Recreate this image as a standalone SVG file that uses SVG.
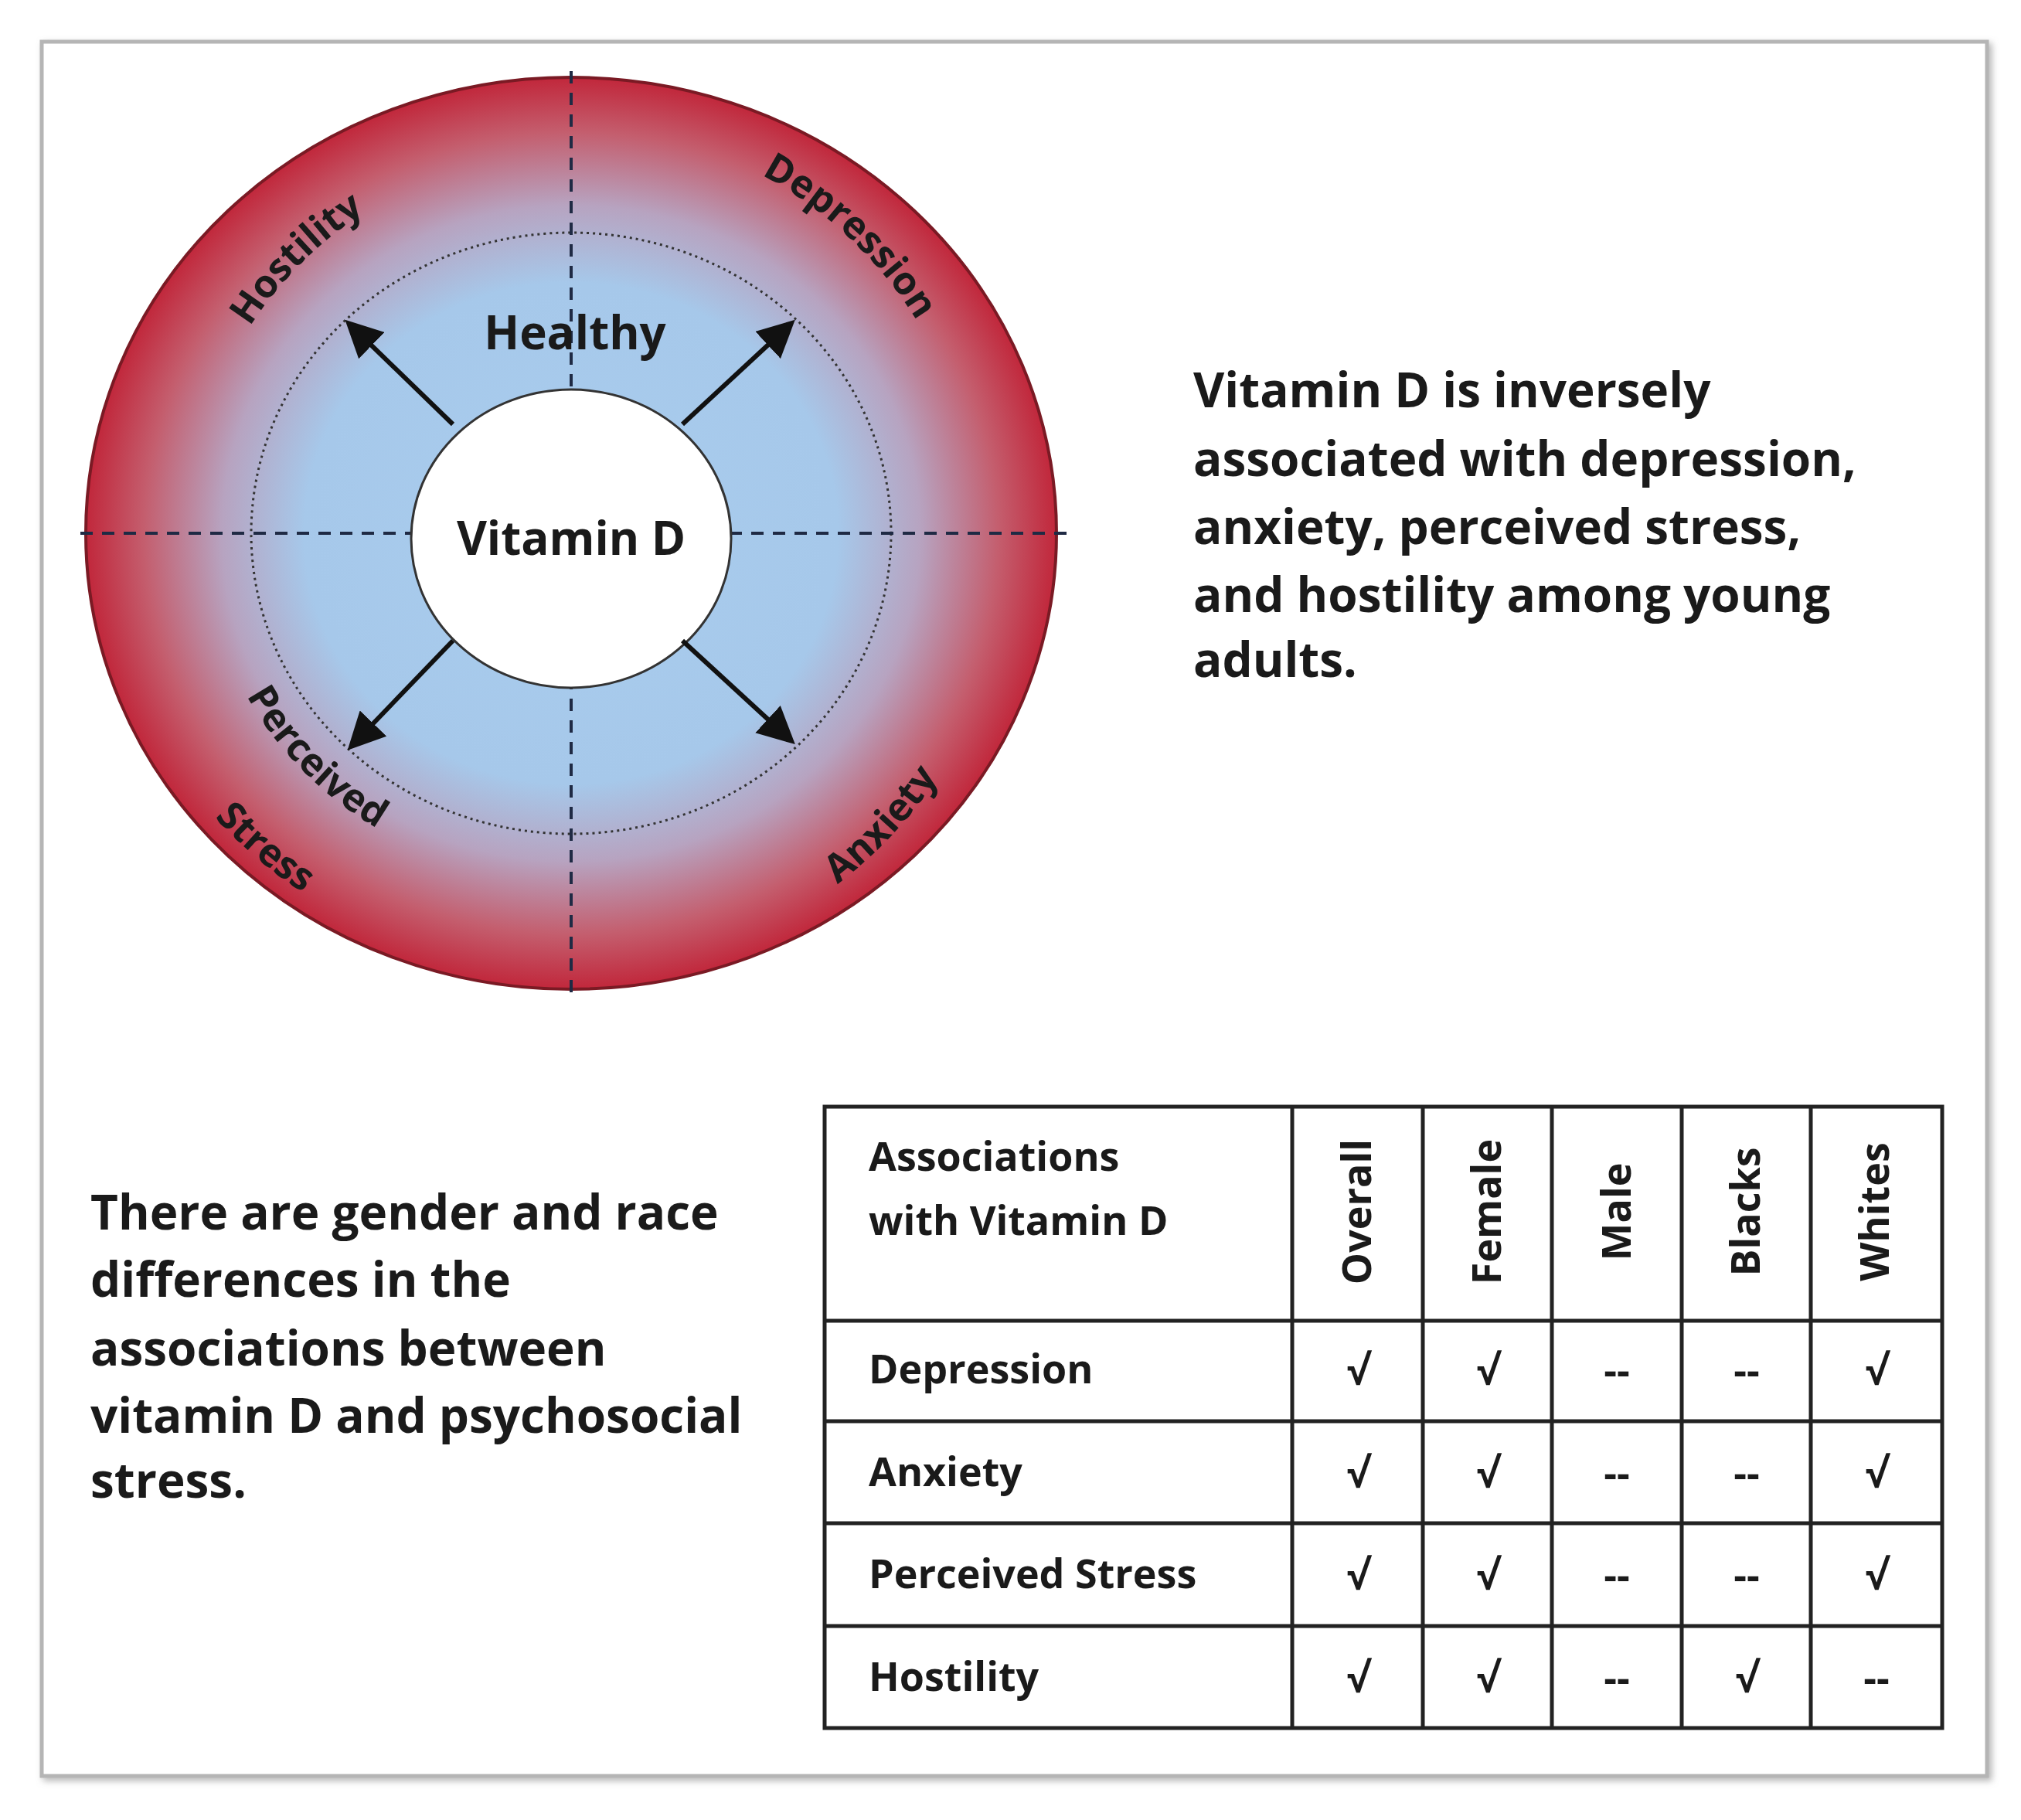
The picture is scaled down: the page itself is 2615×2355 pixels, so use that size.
<svg xmlns="http://www.w3.org/2000/svg" width="2615" height="2355" viewBox="0 0 2615 2355">
<style>
.t{font-family:"Open Sans","Liberation Sans",sans-serif;font-weight:700;fill:#1a1a1a}
.body{font-size:62px}
.lab{font-size:50px}
.tab{font-size:52px}
.cell{font-size:52px;text-anchor:middle}
.grid{stroke:#222;stroke-width:5;fill:none}
.dash{stroke:#1f2a44;stroke-width:4;stroke-dasharray:16 12;fill:none}
.arr{stroke:#111;stroke-width:6;marker-end:url(#ah)}
</style>
<defs>
<radialGradient id="rg" cx="0.5" cy="0.5" r="0.5">
<stop offset="0" stop-color="#a9cdee"/>
<stop offset="0.55" stop-color="#a6c8ea"/>
<stop offset="0.72" stop-color="#b7a3c0"/>
<stop offset="0.88" stop-color="#c45e6e"/>
<stop offset="1" stop-color="#c1273b"/>
</radialGradient>
<marker id="ah" markerWidth="8" markerHeight="8" refX="6" refY="4" orient="auto" markerUnits="strokeWidth"><path d="M0,0 L8,4 L0,8 z" fill="#111"/></marker>
<filter id="sh" x="-5%" y="-5%" width="110%" height="110%"><feDropShadow dx="4" dy="4" stdDeviation="4" flood-color="#888" flood-opacity="0.6"/></filter>
<path id="pH" d="M245,690 A494,494 0 0 1 1233,690"/>
<path id="pD" d="M214,690 A525,525 0 0 1 1264,690"/>
<path id="pA" d="M169,690 A570,570 0 0 0 1309,690"/>
<path id="pP" d="M264,690 A475,450 0 0 0 1214,690"/>
<path id="pS" d="M134,690 A605,568 0 0 0 1344,690"/>
</defs>
<rect x="0" y="0" width="2615" height="2355" fill="#fff"/>
<rect x="54" y="54" width="2517" height="2244" fill="#fff" stroke="#b5b5b5" stroke-width="5" filter="url(#sh)"/>
<g id="wheel">
<ellipse cx="739" cy="690" rx="628" ry="590" fill="url(#rg)" stroke="#7a1a24" stroke-width="4"/>
<ellipse cx="739" cy="690" rx="414" ry="389" fill="none" stroke="#333" stroke-width="3" stroke-dasharray="3 5"/>
<line class="dash" x1="104" y1="690" x2="1382" y2="690"/>
<line class="dash" x1="739" y1="92" x2="739" y2="1290"/>
<ellipse cx="739" cy="697" rx="207" ry="193" fill="#fff" stroke="#333" stroke-width="3"/>
<text class="t" x="744" y="452" font-size="60" text-anchor="middle" fill="#1f3050">Healthy</text>
<text class="t" x="739" y="718" font-size="60" text-anchor="middle">Vitamin D</text>
<text class="t lab"><textPath href="#pH" startOffset="25%" text-anchor="middle">Hostility</textPath></text>
<text class="t lab"><textPath href="#pD" startOffset="74%" text-anchor="middle">Depression</textPath></text>
<text class="t lab"><textPath href="#pA" startOffset="76%" text-anchor="middle">Anxiety</textPath></text>
<text class="t lab"><textPath href="#pP" startOffset="23.5%" text-anchor="middle">Perceived</textPath></text>
<text class="t lab"><textPath href="#pS" startOffset="26%" text-anchor="middle">Stress</textPath></text>
</g>
<g id="connectors">
<line class="arr" x1="586" y1="549" x2="455" y2="422"/>
<line class="arr" x1="883" y1="549" x2="1020" y2="422"/>
<line class="arr" x1="586" y1="829" x2="458" y2="962"/>
<line class="arr" x1="883" y1="829" x2="1020" y2="955"/>
</g>
<g id="text-right">
<text class="t body" x="1544" y="527">Vitamin D is inversely</text>
<text class="t body" x="1544" y="616">associated with depression,</text>
<text class="t body" x="1544" y="704">anxiety, perceived stress,</text>
<text class="t body" x="1544" y="792">and hostility among young</text>
<text class="t body" x="1544" y="876">adults.</text>
</g>
<g id="text-left">
<text class="t body" x="117" y="1591">There are gender and race</text>
<text class="t body" x="117" y="1678">differences in the</text>
<text class="t body" x="117" y="1767">associations between</text>
<text class="t body" x="117" y="1854">vitamin D and psychosocial</text>
<text class="t body" x="117" y="1938">stress.</text>
</g>
<g id="table">
<rect class="grid" x="1067" y="1432" width="1446" height="804"/>
<path class="grid" d="M1067,1709H2513M1067,1839H2513M1067,1971H2513M1067,2104H2513M1672,1432V2236M1841,1432V2236M2008,1432V2236M2176,1432V2236M2343,1432V2236"/>
<text class="t tab" x="1124" y="1515">Associations</text>
<text class="t tab" x="1124" y="1598">with Vitamin D</text>
<g class="t tab" text-anchor="middle">
<text transform="translate(1774,1568) rotate(-90)">Overall</text>
<text transform="translate(1942,1568) rotate(-90)">Female</text>
<text transform="translate(2110,1568) rotate(-90)">Male</text>
<text transform="translate(2277,1568) rotate(-90)">Blacks</text>
<text transform="translate(2444,1568) rotate(-90)">Whites</text>
</g>
<text class="t tab" x="1124" y="1790">Depression</text>
<text class="t tab" x="1124" y="1923">Anxiety</text>
<text class="t tab" x="1124" y="2055">Perceived Stress</text>
<text class="t tab" x="1124" y="2188">Hostility</text>
<g class="t cell">
<text x="1757" y="1792">√</text><text x="1925" y="1792">√</text><text x="2092" y="1792">--</text><text x="2260" y="1792">--</text><text x="2428" y="1792">√</text>
<text x="1757" y="1925">√</text><text x="1925" y="1925">√</text><text x="2092" y="1925">--</text><text x="2260" y="1925">--</text><text x="2428" y="1925">√</text>
<text x="1757" y="2057">√</text><text x="1925" y="2057">√</text><text x="2092" y="2057">--</text><text x="2260" y="2057">--</text><text x="2428" y="2057">√</text>
<text x="1757" y="2190">√</text><text x="1925" y="2190">√</text><text x="2092" y="2190">--</text><text x="2260" y="2190">√</text><text x="2428" y="2190">--</text>
</g>
</g>
</svg>
